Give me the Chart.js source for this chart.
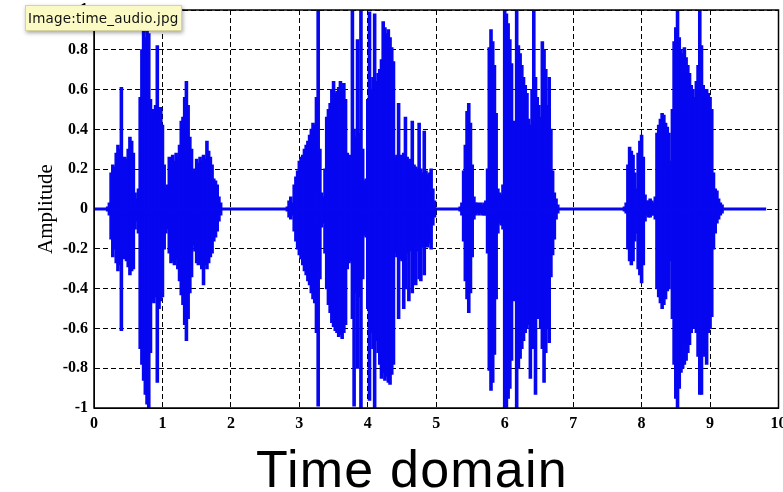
<!DOCTYPE html>
<html>
<head>
<meta charset="utf-8">
<script src="https://cdn.jsdelivr.net/npm/chart.js@4.4.1/dist/chart.umd.min.js"></script>
<style>
  html, body { margin: 0; padding: 0; background: #fff; overflow: hidden; }
  #wrap { position: relative; width: 783px; height: 492px; overflow: hidden; }
  #chart { position: absolute; left: 0; top: 0; }
  #caption {
    position: absolute; left: 256px; top: 443px;
    font: 52px/52px "Liberation Sans", Arial, sans-serif;
    letter-spacing: 1.2px; color: #000; white-space: nowrap;
  }
  #tip {
    position: absolute; left: 25px; top: 5px; width: 157px; height: 26px;
    box-sizing: border-box; background: #fbfac4; border: 1px solid #d6d49a;
    box-shadow: 1px 2px 4px rgba(0, 0, 0, .35);
    font: 13.5px "DejaVu Sans", sans-serif; letter-spacing: 0.2px; color: #111;
    padding: 4px 0 0 2px; white-space: nowrap;
  }
</style>
</head>
<body>
<div id="wrap">
  <canvas id="chart" width="800" height="492"></canvas>
  <div id="caption">Time domain</div>
  <div id="tip">Image:time_audio.jpg</div>
</div>
<script>
// waveform envelope, every 0.025 s inside each burst
const step = 0.025;

const startA = 0.200;
const upperA = [0.01,0.03,0.18,0.22,0.21,0.28,0.32,0.30,0.61,0.24,
  0.26,0.25,0.30,0.36,0.34,0.28,0.08,0.05,0.10,0.56,
  0.80,0.90,0.86,0.92,0.88,0.55,0.50,0.48,0.52,0.82,
  0.47,0.51,0.42,0.22,0.10,0.12,0.26,0.25,0.27,0.24,
  0.28,0.26,0.32,0.44,0.46,0.56,0.64,0.52,0.36,0.30,
  0.19,0.20,0.25,0.23,0.26,0.24,0.27,0.25,0.34,0.29,
  0.26,0.22,0.15,0.14,0.12,0.06,0.03];
const lowerA = [-0.01,-0.03,-0.15,-0.24,-0.20,-0.27,-0.31,-0.28,-0.61,-0.23,
  -0.25,-0.26,-0.29,-0.33,-0.31,-0.30,-0.10,-0.06,-0.12,-0.70,
  -0.78,-0.86,-0.93,-0.98,-1.00,-0.72,-0.46,-0.47,-0.44,-0.87,
  -0.50,-0.46,-0.44,-0.20,-0.12,-0.10,-0.22,-0.27,-0.26,-0.28,
  -0.25,-0.30,-0.36,-0.43,-0.48,-0.58,-0.66,-0.55,-0.42,-0.34,
  -0.18,-0.21,-0.27,-0.28,-0.25,-0.30,-0.38,-0.28,-0.30,-0.27,
  -0.24,-0.22,-0.16,-0.14,-0.11,-0.06,-0.03];

const startB = 2.825;
const upperB = [0.01,0.04,0.06,0.03,0.12,0.16,0.19,0.24,0.26,0.27,
  0.30,0.32,0.34,0.37,0.40,0.43,0.42,0.56,1.00,0.30,
  0.08,0.06,0.20,0.46,0.50,0.53,0.60,0.64,0.58,0.59,
  0.61,0.64,0.60,0.63,0.55,0.28,0.26,0.27,1.00,0.40,
  0.36,0.85,0.38,1.00,0.30,0.14,0.15,0.55,0.99,0.60,
  0.66,0.98,0.64,0.68,0.70,0.75,0.94,0.91,0.88,0.90,
  0.86,0.81,0.74,0.26,0.27,0.53,0.27,0.25,0.28,0.46,
  0.26,0.24,0.25,0.44,0.22,0.21,0.20,0.43,0.20,0.18,
  0.39,0.19,0.17,0.18,0.20,0.10,0.04];
const lowerB = [-0.01,-0.04,-0.05,-0.03,-0.11,-0.16,-0.20,-0.23,-0.25,-0.28,
  -0.31,-0.33,-0.36,-0.38,-0.42,-0.45,-0.47,-0.62,-0.99,-0.35,
  -0.09,-0.07,-0.22,-0.40,-0.48,-0.52,-0.57,-0.59,-0.61,-0.62,
  -0.64,-0.63,-0.65,-0.62,-0.58,-0.30,-0.27,-0.26,-0.55,-0.99,
  -0.42,-0.80,-0.44,-1.00,-0.35,-0.13,-0.14,-0.50,-0.96,-0.62,
  -0.70,-1.00,-0.66,-0.72,-0.78,-0.85,-0.82,-0.86,-0.84,-0.87,
  -0.88,-0.83,-0.78,-0.22,-0.24,-0.55,-0.25,-0.26,-0.50,-0.40,
  -0.22,-0.46,-0.21,-0.42,-0.20,-0.38,-0.21,-0.35,-0.36,-0.19,
  -0.33,-0.18,-0.19,-0.17,-0.20,-0.08,-0.04];

const startC = 5.350;
const upperC = [0.01,0.03,0.19,0.32,0.49,0.53,0.43,0.22,0.06,0.03,
  0.03,0.02,0.03,0.02,0.03,0.04,0.20,0.81,0.90,0.84,
  0.72,0.48,0.10,0.08,0.07,0.12,1.00,0.98,0.93,0.85,
  0.73,0.44,0.40,1.00,0.82,0.78,0.72,0.66,0.62,0.58,
  0.45,0.42,0.60,1.00,0.66,0.56,0.52,0.46,0.84,0.80,
  0.70,0.52,0.66,0.40,0.19,0.08,0.05,0.02];
const lowerC = [-0.01,-0.03,-0.16,-0.36,-0.45,-0.52,-0.42,-0.24,-0.05,-0.03,
  -0.02,-0.03,-0.02,-0.03,-0.03,-0.03,-0.22,-0.81,-0.91,-0.87,
  -0.73,-0.45,-0.12,-0.07,-0.08,-0.10,-1.00,-1.00,-0.95,-0.90,
  -0.76,-0.46,-0.45,-1.00,-0.80,-0.75,-0.70,-0.66,-0.62,-0.60,
  -0.58,-0.85,-0.62,-0.70,-0.93,-0.55,-0.54,-0.60,-0.70,-0.87,
  -0.72,-0.60,-0.67,-0.34,-0.23,-0.15,-0.05,-0.02];

const startD = 7.750;
const upperD = [0.01,0.03,0.22,0.31,0.29,0.27,0.18,0.10,0.28,0.34,
  0.37,0.26,0.07,0.04,0.04,0.05,0.04,0.03,0.06,0.38,
  0.42,0.45,0.48,0.47,0.43,0.41,0.38,0.24,0.50,0.84,
  0.91,1.00,0.86,0.80,0.78,0.81,0.76,0.72,0.68,0.62,
  0.60,0.56,0.64,0.72,1.00,0.82,0.62,0.58,0.60,0.58,
  0.56,0.50,0.18,0.10,0.09,0.05,0.03,0.02];
const lowerD = [-0.01,-0.02,-0.20,-0.26,-0.28,-0.26,-0.16,-0.12,-0.30,-0.33,
  -0.37,-0.28,-0.06,-0.03,-0.04,-0.04,-0.03,-0.03,-0.05,-0.40,
  -0.44,-0.47,-0.50,-0.48,-0.45,-0.41,-0.40,-0.26,-0.55,-0.78,
  -0.95,-1.00,-0.90,-0.82,-0.80,-0.78,-0.76,-0.72,-0.68,-0.62,
  -0.58,-0.60,-0.62,-0.74,-0.93,-0.93,-0.74,-0.72,-0.78,-0.62,
  -0.60,-0.54,-0.20,-0.12,-0.07,-0.05,-0.03,-0.02];

// quiet stretches between the bursts
const silenceTimes = [0, 9.82];
const silenceLevel = [0, 0];

const xTicks = [0, 1, 2, 3, 4, 5, 6, 7, 8, 9, 10];
const yTicks = [-1, -0.8, -0.6, -0.4, -0.2, 0, 0.2, 0.4, 0.6, 0.8, 1];

const blue = '#0606f0';

const segments = [
  { start: startA, upper: upperA, lower: lowerA },
  { start: startB, upper: upperB, lower: lowerB },
  { start: startC, upper: upperC, lower: lowerC },
  { start: startD, upper: upperD, lower: lowerD },
];

const wave = [];
segments.forEach(s => {
  s.upper.forEach((u, i) => {
    wave.push({ x: +(s.start + i * step).toFixed(3), y: [s.lower[i], u] });
  });
});
const silence = silenceTimes.map((t, i) => ({ x: t, y: silenceLevel[i] }));

const frame = {
  id: 'frame',
  afterDraw(chart) {
    const { ctx, chartArea: a } = chart;
    ctx.save();
    ctx.strokeStyle = '#000';
    ctx.lineWidth = 1.5;
    ctx.strokeRect(a.left, a.top, a.right - a.left, a.bottom - a.top);
    ctx.restore();
  }
};

const tickFont = { family: "'Liberation Serif', 'Times New Roman', serif", size: 16, weight: 'bold' };

new Chart(document.getElementById('chart').getContext('2d'), {
  type: 'bar',
  data: {
    datasets: [{
      type: 'line',
      data: silence,
      borderColor: blue,
      borderWidth: 3,
      pointRadius: 0,
    }, {
      type: 'bar',
      data: wave,
      backgroundColor: blue,
      borderWidth: 0,
      barThickness: 2.4,
      barPercentage: 1,
      categoryPercentage: 1,
      inflateAmount: 0.6,
    }]
  },
  options: {
    responsive: false,
    animation: false,
    events: [],
    layout: { padding: { left: 0, right: 21.5, top: 10, bottom: 44 } },
    plugins: {
      legend: { display: false },
      tooltip: { enabled: false }
    },
    scales: {
      x: {
        type: 'linear',
        min: 0,
        max: 10,
        offset: false,
        z: 1,
        grid: { color: '#000', lineWidth: 1, drawTicks: false, offset: false },
        border: { color: '#000', width: 1, dash: [5, 3] },
        afterBuildTicks: s => { s.ticks = xTicks.map(v => ({ value: v })); },
        ticks: { padding: 6, color: '#000', font: tickFont, maxRotation: 0, autoSkip: false },
        afterFit: s => { s.height = 40; s.paddingLeft = 0; s.paddingRight = 0; }
      },
      y: {
        type: 'linear',
        min: -1,
        max: 1,
        z: 1,
        grid: { color: '#000', lineWidth: 1, drawTicks: false },
        border: { color: '#000', width: 1, dash: [5, 3] },
        afterBuildTicks: s => { s.ticks = yTicks.map(v => ({ value: v })); },
        ticks: {
          padding: 6, color: '#000', font: tickFont, autoSkip: false,
          callback: v => String(+v.toFixed(1))
        },
        title: {
          display: true,
          text: 'Amplitude',
          color: '#000',
          font: { family: "'Liberation Serif', 'Times New Roman', serif", size: 21 },
          padding: { top: 34, bottom: 0 }
        },
        afterFit: s => { s.width = 94; s.paddingTop = 0; s.paddingBottom = 0; }
      }
    }
  },
  plugins: [frame]
});
</script>
</body>
</html>
